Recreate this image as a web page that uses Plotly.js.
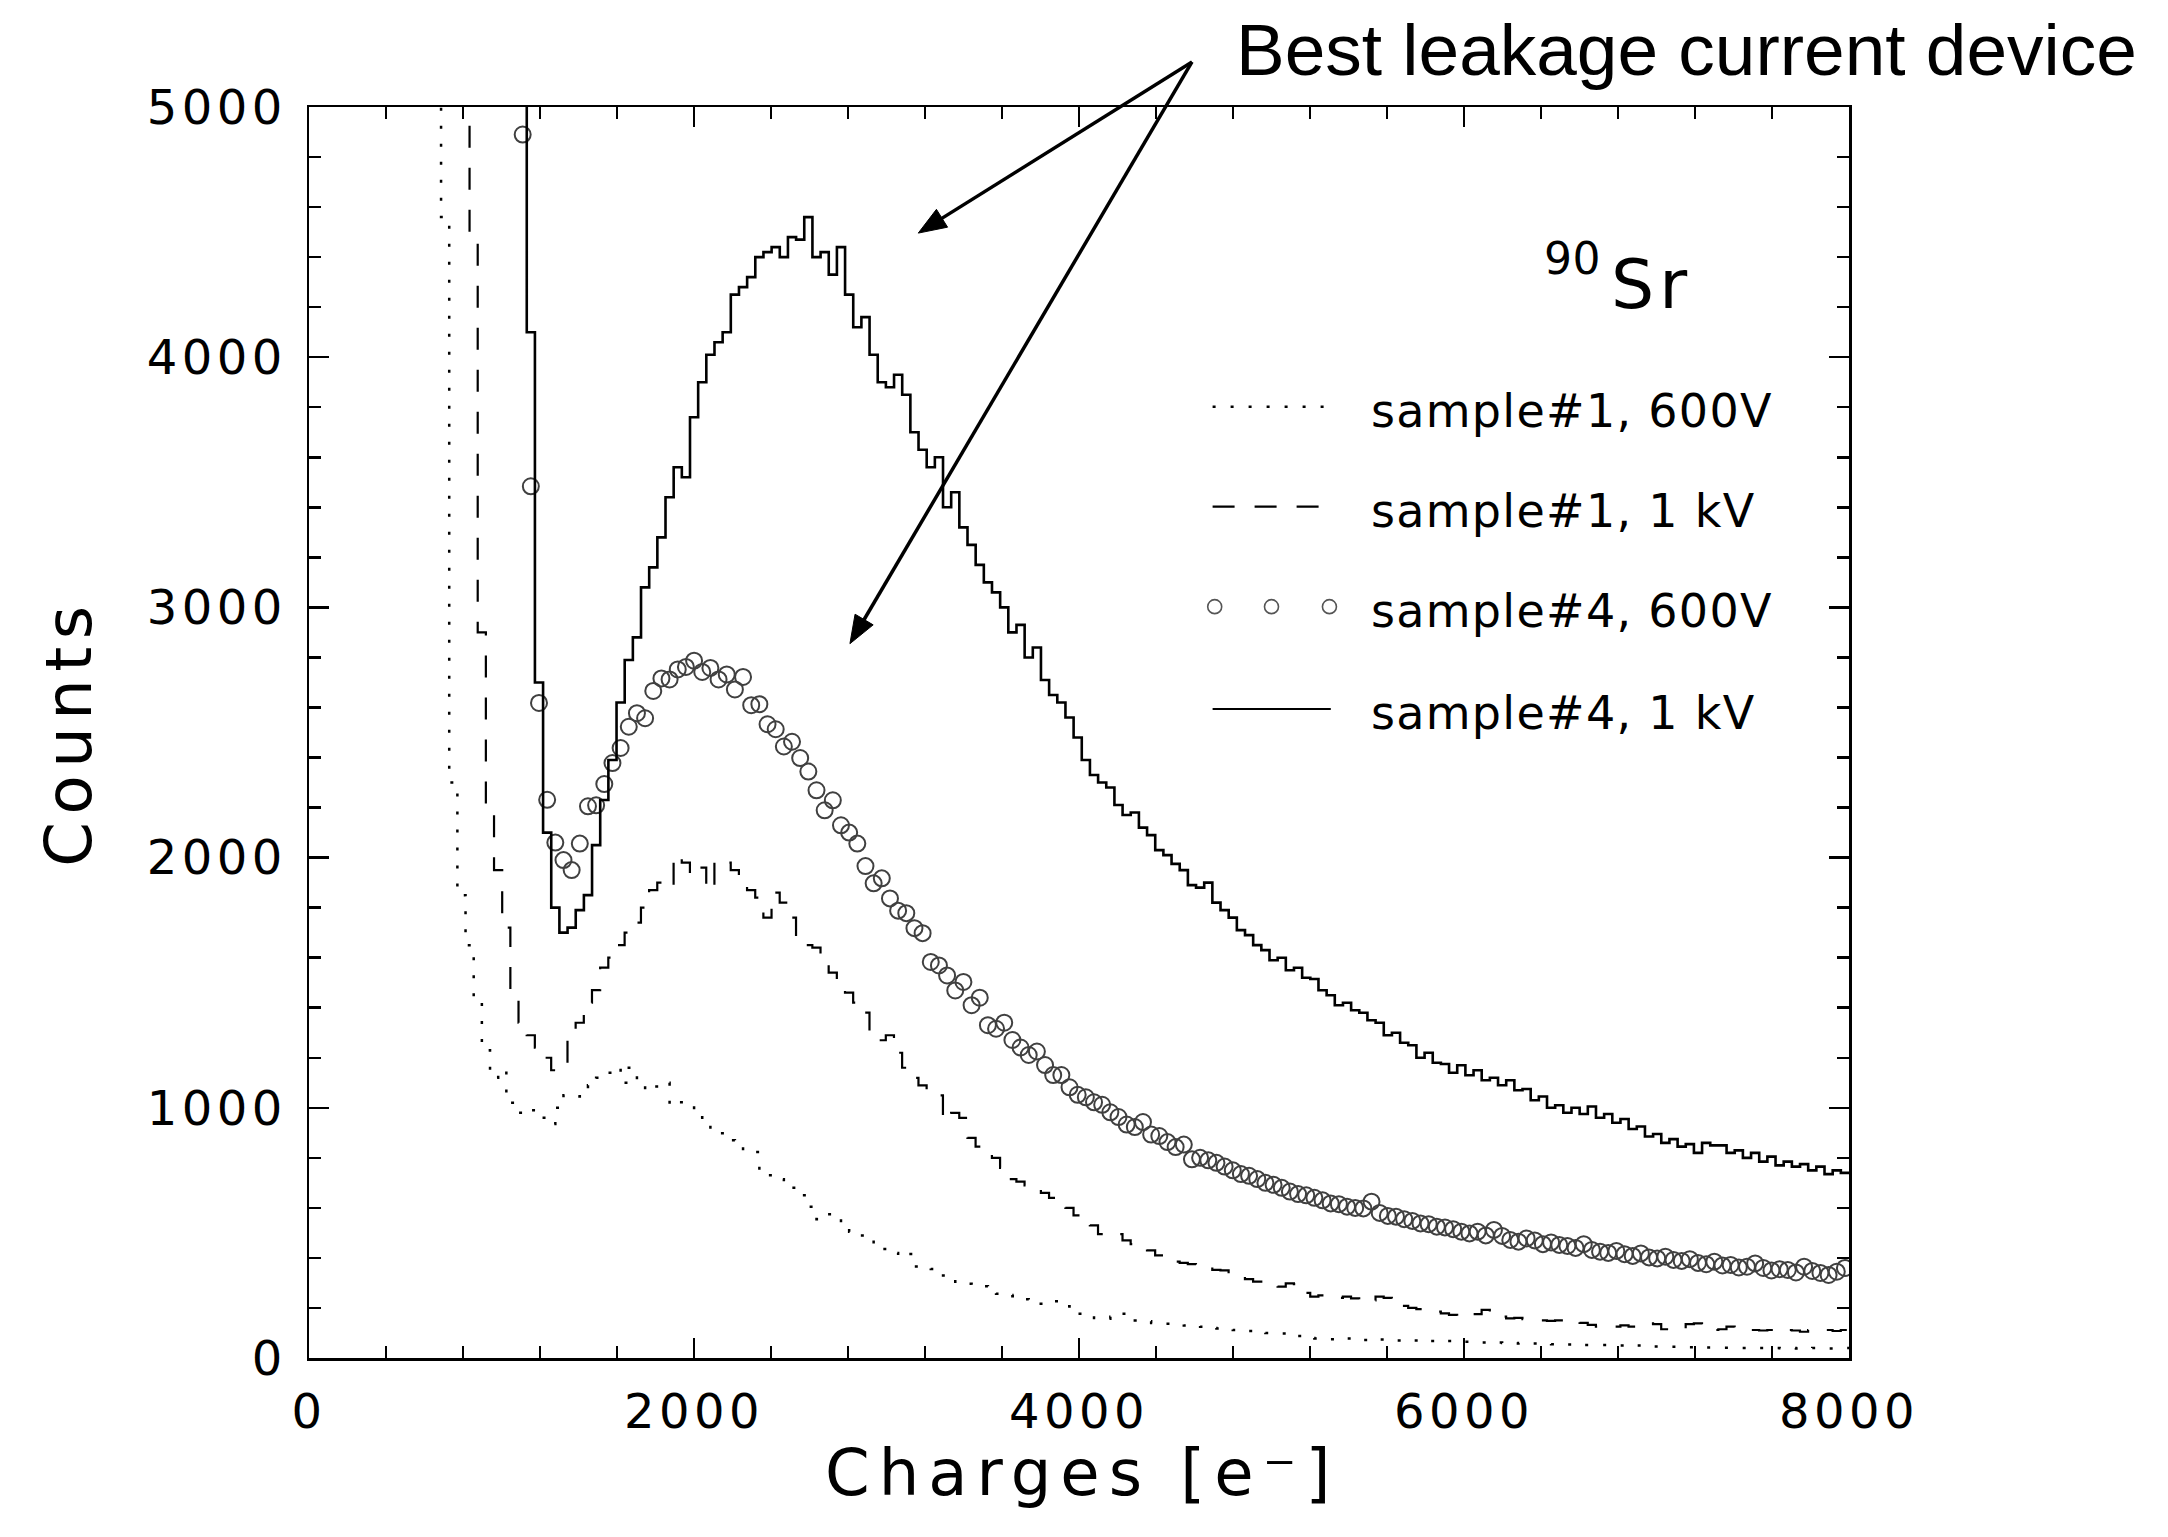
<!DOCTYPE html>
<html><head><meta charset="utf-8">
<script src="https://cdn.plot.ly/plotly-3.0.1.min.js"></script>
<style>html,body{margin:0;padding:0;background:#fff}#chart{width:2168px;height:1537px}</style>
</head><body><div id="chart"></div>
<script>
// ---------------- DATA ----------------
const binWidth = 42.4;   // e- per histogram bin

// sample#1, 600V (dotted) : first bin left edge, then counts per bin
const s1_600V_start = 643.6;
const s1_600V = [20000, 4560, 2300, 1850, 1650, 1420, 1230, 1120, 1150, 1020, 980, 975, 990, 960, 935, 1000, 1050, 1045, 1060, 1090,
  1120, 1140, 1160, 1100, 1160, 1090, 1070, 1085, 1100, 1010, 1022, 1022, 962, 930, 903, 898, 870, 843, 830, 823,
  744, 730, 714, 694, 680, 650, 605, 555, 575, 560, 520, 505, 490, 476, 446, 436, 420, 406, 416, 366,
  360, 356, 330, 316, 305, 297, 292, 287, 270, 257, 252, 247, 235, 225, 217, 222, 227, 207, 190, 177,
  170, 160, 157, 165, 177, 160, 150, 147, 140, 137, 137, 135, 130, 128, 125, 120, 118, 115, 112, 110,
  108, 105, 100, 100, 98, 95, 88, 80, 78, 76, 75, 74, 78, 72, 72, 70, 74, 72, 70, 72,
  70, 72, 68, 66, 68, 65, 65, 64, 62, 60, 62, 60, 58, 60, 58, 58, 56, 55, 56, 54,
  55, 52, 52, 52, 50, 50, 48, 50, 47, 46, 46, 45, 45, 44, 43, 44, 42, 42, 41, 40,
  40, 41, 40, 39, 40, 39, 40, 38, 39, 40, 40, 38, 40, 40];

// sample#1, 1 kV (dashed)
const s1_1kV_start = 791.6;
const s1_1kV = [20000, 4490, 2900, 2200, 1950, 1720, 1430, 1340, 1290, 1240, 1200, 1150, 1180, 1290, 1340, 1420, 1470, 1560, 1600, 1650,
  1700, 1740, 1800, 1870, 1900, 1880, 2010, 1980, 1930, 1960, 1870, 1990, 1980, 1950, 1900, 1870, 1840, 1760, 1860, 1820,
  1760, 1680, 1650, 1640, 1570, 1540, 1500, 1460, 1420, 1380, 1280, 1270, 1290, 1220, 1160, 1120, 1090, 1070, 1050, 950,
  980, 960, 880, 845, 820, 800, 760, 715, 705, 690, 680, 660, 640, 615, 600, 570, 560, 530, 495, 490,
  495, 470, 455, 455, 430, 410, 400, 385, 380, 375, 365, 366, 352, 350, 330, 325, 315, 305, 300, 290,
  285, 298, 295, 260, 245, 250, 245, 240, 245, 238, 225, 230, 245, 240, 205, 208, 200, 195, 185, 185,
  178, 172, 165, 168, 175, 192, 175, 165, 158, 160, 155, 152, 150, 148, 150, 145, 148, 140, 132, 125,
  128, 125, 130, 125, 128, 138, 135, 115, 112, 118, 135, 138, 120, 112, 115, 125, 122, 120, 112, 110,
  112, 118, 112, 110, 105, 112, 115, 112, 108, 112];

// sample#4, 600V (open circles) : centre of first bin, then counts per bin
const s4_600V_firstCenter = 1110;
const s4_600V = [4890, 3484, 2618, 2231, 2060, 1990, 1950, 2056, 2205, 2209, 2294, 2378, 2438, 2523, 2577, 2557, 2666, 2716, 2712, 2752,
  2762, 2787, 2742, 2758, 2712, 2732, 2672, 2722, 2609, 2613, 2533, 2513, 2444, 2463, 2398, 2344, 2269, 2189, 2229, 2129,
  2100, 2056, 1966, 1897, 1917, 1837, 1788, 1778, 1718, 1698, 1583, 1569, 1529, 1469, 1503, 1410, 1440, 1330, 1316, 1340,
  1271, 1241, 1211, 1225, 1171, 1131, 1131, 1082, 1052, 1042, 1022, 1012, 982, 963, 933, 923, 943, 893, 887, 863,
  843, 853, 794, 800, 790, 780, 765, 750, 735, 728, 715, 700, 692, 680, 665, 655, 650, 640, 630, 618,
  615, 605, 600, 598, 625, 580, 568, 565, 555, 548, 538, 535, 525, 522, 515, 505, 498, 505, 490, 512,
  488, 472, 465, 478, 470, 455, 462, 452, 448, 440, 455, 432, 425, 420, 428, 415, 408, 418, 402, 398,
  405, 392, 388, 395, 380, 375, 385, 370, 372, 362, 365, 378, 360, 350, 355, 352, 342, 365, 348, 340,
  332, 345, 360];

// sample#4, 1 kV (solid)
const s4_1kV_start = 1088.8;
const s4_1kV = [9000, 4100, 2700, 2100, 1800, 1700, 1720, 1790, 1850, 2050, 2230, 2390, 2620, 2790, 2880, 3080, 3160, 3280, 3440, 3560,
  3520, 3760, 3900, 4010, 4060, 4100, 4250, 4280, 4320, 4400, 4420, 4440, 4400, 4480, 4470, 4560, 4400, 4420, 4330, 4440,
  4250, 4120, 4160, 4010, 3900, 3880, 3930, 3850, 3700, 3630, 3560, 3600, 3400, 3460, 3320, 3250, 3170, 3100, 3060, 3000,
  2900, 2930, 2800, 2840, 2710, 2650, 2620, 2560, 2480, 2390, 2330, 2300, 2280, 2210, 2170, 2180, 2120, 2090, 2030, 2010,
  1975, 1950, 1890, 1880, 1900, 1820, 1790, 1760, 1710, 1690, 1650, 1630, 1590, 1600, 1550, 1560, 1520, 1515, 1470, 1450,
  1410, 1420, 1390, 1380, 1350, 1340, 1290, 1300, 1260, 1250, 1200, 1220, 1180, 1175, 1140, 1170, 1130, 1150, 1110, 1120,
  1090, 1110, 1070, 1075, 1030, 1045, 1000, 1010, 980, 1000, 975, 1005, 960, 975, 940, 955, 915, 925, 885, 895,
  860, 875, 845, 855, 820, 860, 850, 850, 820, 830, 800, 820, 785, 805, 770, 785, 765, 775, 750, 765,
  735, 750, 740];

const seriesNames = ['sample#1, 600V', 'sample#1, 1 kV', 'sample#4, 600V', 'sample#4, 1 kV'];
const xTickVals = [0, 2000, 4000, 6000, 8000];
const yTickVals = [0, 1000, 2000, 3000, 4000, 5000];
const xTitle = 'Charges [e\u207B]';
const yTitle = 'Counts';
const isotopeMass = '90', isotopeSymbol = 'Sr';
const calloutText = 'Best leakage current device';
const X_MAX = 8000, Y_MAX = 5000;

// ---------------- BUILD ----------------
function steps(start, w, vals) {
  const x = [], y = [];
  vals.forEach((v, i) => { x.push(start + i * w); y.push(v); });
  x.push(start + vals.length * w); y.push(vals[vals.length - 1]);
  return {x, y};
}
function centers(c0, w, vals) { return vals.map((v, i) => c0 + i * w); }

const d1 = steps(s1_600V_start, binWidth, s1_600V);
const d2 = steps(s1_1kV_start, binWidth, s1_1kV);
const d4 = steps(s4_1kV_start, binWidth, s4_1kV);

const traces = [
  {x: d1.x, y: d1.y, type: 'scatter', mode: 'lines', name: seriesNames[0],
   line: {shape: 'hv', color: '#000', width: 2.5, dash: '3px,15px'}},
  {x: d2.x, y: d2.y, type: 'scatter', mode: 'lines', name: seriesNames[1],
   line: {shape: 'hv', color: '#000', width: 2.2, dash: '22px,20px'}},
  {x: centers(s4_600V_firstCenter, binWidth, s4_600V), y: s4_600V, type: 'scatter', mode: 'markers', name: seriesNames[2],
   marker: {symbol: 'circle-open', size: 16, color: '#404040', line: {width: 2, color: '#404040'}}},
  {x: d4.x, y: d4.y, type: 'scatter', mode: 'lines', name: seriesNames[3],
   line: {shape: 'hv', color: '#000', width: 2.6}}
];

const FONT = 'DejaVu Sans, Verdana, sans-serif';
const sp = (t, px) => '<span style="letter-spacing:' + px + 'px">' + t + '</span>';

const axisCommon = {
  showline: true, linecolor: '#000', linewidth: 2.5, mirror: 'ticks',
  ticks: 'inside', ticklen: 20, tickwidth: 2.5, tickcolor: '#000',
  showgrid: false, zeroline: false, tickmode: 'array', ticklabelstandoff: 10,
  tickfont: {family: FONT, size: 48, color: '#000'}
};

const M = {l: 309, r: 319, t: 107, b: 179};
const PW = 2168 - M.l - M.r, PH = 1537 - M.t - M.b;

// legend drawn by hand (long line samples as in the reference)
const legX0 = 4694, legX1 = 5308, legTextX = 5504;
const legRowY = [3802, 3403, 3003, 2594];
const shapes = [
  {type: 'line', xref: 'x', yref: 'y', x0: legX0, x1: legX1, y0: legRowY[0], y1: legRowY[0], line: {color: '#000', width: 2.5, dash: '3px,15px'}},
  {type: 'line', xref: 'x', yref: 'y', x0: legX0, x1: legX1 - 30, y0: legRowY[1], y1: legRowY[1], line: {color: '#000', width: 2.2, dash: '22px,20px'}},
  {type: 'line', xref: 'x', yref: 'y', x0: legX0, x1: legX1, y0: legRowY[3], y1: legRowY[3], line: {color: '#000', width: 2.2}}
];
[4705, 5000, 5301].forEach(cx => shapes.push({type: 'circle', xref: 'x', yref: 'y', xsizemode: 'pixel', ysizemode: 'pixel',
  xanchor: cx, yanchor: legRowY[2], x0: -7, x1: 7, y0: -7, y1: 7, line: {color: '#555', width: 1.6}}));

// two arrows from one tail point (drawn in paper space so the part above the frame is kept)
const arrowTail = [4587, 5180];
const arrowTips = [[3165, 4496], [2810, 2855]];
arrowTips.forEach(tip => {
  const tx = tip[0] / X_MAX * PW, ty = -tip[1] / Y_MAX * PH;
  const sx = arrowTail[0] / X_MAX * PW, sy = -arrowTail[1] / Y_MAX * PH;
  const len = Math.hypot(tx - sx, ty - sy), ux = (tx - sx) / len, uy = (ty - sy) / len;
  const L = 28, W = 10.5;
  const bx = tx - ux * L, by = ty - uy * L;
  const toP = (px, py) => (px / PW).toFixed(5) + ',' + (-py / PH).toFixed(5);
  shapes.push({type: 'line', xref: 'paper', yref: 'paper', x0: sx / PW, y0: -sy / PH,
    x1: (bx + ux * 4) / PW, y1: -(by + uy * 4) / PH, line: {color: '#000', width: 3.5}});
  shapes.push({type: 'path', xref: 'paper', yref: 'paper', fillcolor: '#000', line: {color: '#000', width: 1},
    path: 'M' + toP(tx, ty) + 'L' + toP(bx - uy * W, by + ux * W) + 'L' + toP(bx + uy * W, by - ux * W) + 'Z'});
});

const annotations = seriesNames.map((n, i) => ({
  xref: 'x', yref: 'y', x: legTextX, y: legRowY[i] - 16, xanchor: 'left', yanchor: 'middle', showarrow: false,
  text: sp(n, 1.3), font: {family: FONT, size: 46, color: '#000'}
}));
annotations.push({xref: 'x', yref: 'y', x: 6405, y: 4396, xanchor: 'left', yanchor: 'middle', showarrow: false,
  text: sp(isotopeMass, 0.5), font: {family: FONT, size: 44, color: '#000'}});
annotations.push({xref: 'x', yref: 'y', x: 6752, y: 4289, xanchor: 'left', yanchor: 'middle', showarrow: false,
  text: sp(isotopeSymbol, 5), font: {family: FONT, size: 68, color: '#000'}});
annotations.push({xref: 'paper', yref: 'paper', x: 0.6006, y: 1.046, xanchor: 'left', yanchor: 'middle', showarrow: false,
  text: calloutText, font: {family: 'Liberation Sans, Arial, sans-serif', size: 73, color: '#000'}});
// x-axis title (as annotation so it can sit as close to the labels as in the reference)
annotations.push({xref: 'paper', yref: 'paper', x: 0.502, y: -0.0919, xanchor: 'center', yanchor: 'middle', showarrow: false,
  text: sp(xTitle, 9), font: {family: FONT, size: 64, color: '#000'}});

const layout = {
  width: 2168, height: 1537, paper_bgcolor: '#fff', plot_bgcolor: '#fff', showlegend: false,
  margin: M,
  xaxis: Object.assign({}, axisCommon, {
    range: [0, X_MAX], tickvals: xTickVals, ticktext: xTickVals.map(v => sp(String(v), 4.5)),
    minor: {tickmode: 'linear', tick0: 0, dtick: 400, ticks: 'inside', ticklen: 12, tickwidth: 2.5, tickcolor: '#000', showgrid: false}
  }),
  yaxis: Object.assign({}, axisCommon, {
    range: [0, Y_MAX], tickvals: yTickVals, ticktext: yTickVals.map(v => sp(String(v), 4.5)),
    minor: {tickmode: 'linear', tick0: 0, dtick: 200, ticks: 'inside', ticklen: 12, tickwidth: 2.5, tickcolor: '#000', showgrid: false},
    title: {text: sp(yTitle, 7.5), font: {family: FONT, size: 64, color: '#000'}, standoff: 35}
  }),
  shapes: shapes,
  annotations: annotations
};

Plotly.newPlot('chart', traces, layout, {staticPlot: true, displayModeBar: false});
</script>
</body></html>
